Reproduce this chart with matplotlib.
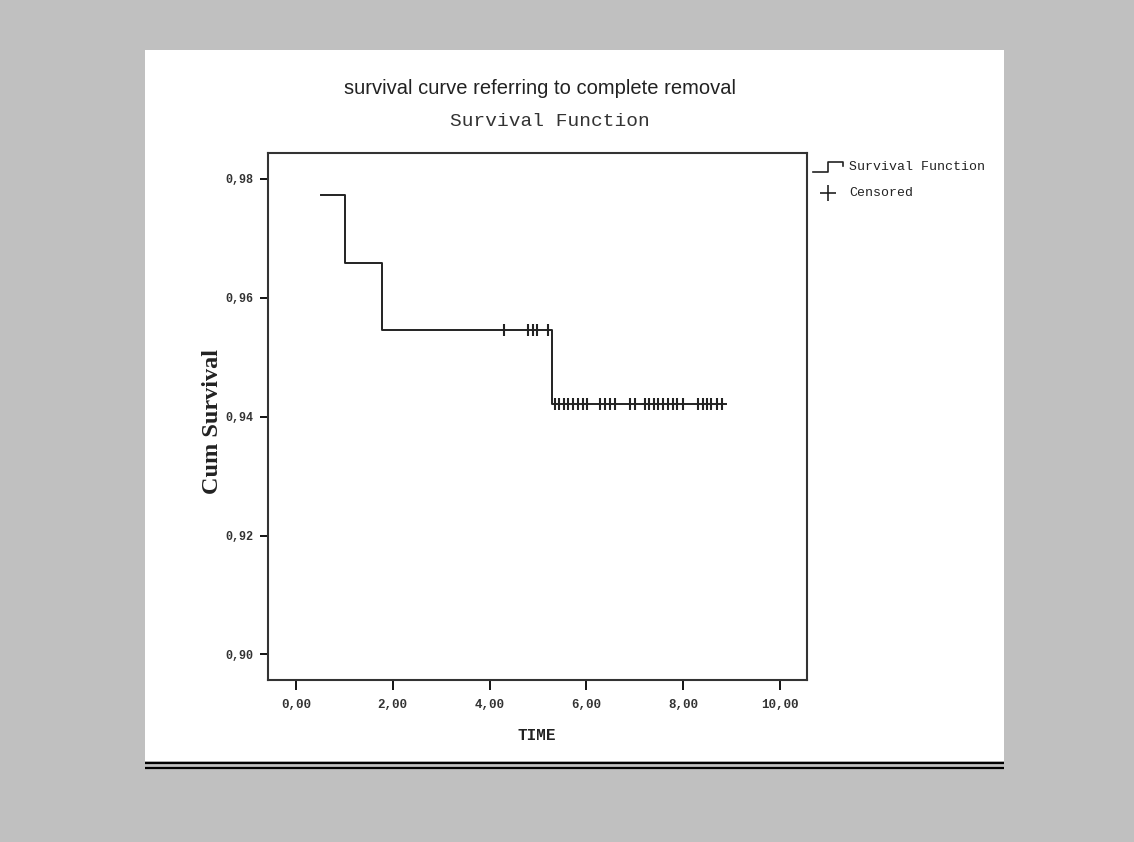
import numpy as np
import matplotlib
matplotlib.use("Agg")
import matplotlib.pyplot as plt
from matplotlib.patches import Rectangle
from matplotlib.lines import Line2D
from matplotlib.ticker import FuncFormatter

# step curve: time of each step and survival level after it
step_times = [0.51, 1.01, 1.78, 5.29]
step_levels = [0.9773, 0.9659, 0.9545, 0.9421]
last_time = 8.88

# censored observations
censored_times = [4.29, 4.80, 4.89, 4.98, 5.21,
                  5.35, 5.44, 5.53, 5.63, 5.73, 5.82, 5.92, 6.02,
                  6.29, 6.38, 6.48, 6.59, 6.90, 7.00,
                  7.21, 7.30, 7.39, 7.48, 7.58, 7.69, 7.78, 7.87, 8.00,
                  8.31, 8.40, 8.49, 8.58, 8.69, 8.80]

x_ticks = [0, 2, 4, 6, 8, 10]
y_ticks = [0.90, 0.92, 0.94, 0.96, 0.98]

W, H = 1134, 842
fig = plt.figure(figsize=(W / 100, H / 100), dpi=100, facecolor="#c0c0c0")


def fx(px):
    return px / W


def fy(py):
    return 1 - py / H


# white page and the double rule under it
fig.add_artist(Rectangle((fx(145), fy(760.7)), fx(1004) - fx(145), fy(50) - fy(760.7),
                         transform=fig.transFigure, facecolor="white", edgecolor="none", zorder=0))
for yy in (763.3, 768.0):
    fig.add_artist(Line2D([fx(145), fx(1004)], [fy(yy), fy(yy)], transform=fig.transFigure,
                          color="black", lw=1.6, solid_capstyle="butt"))

ax = fig.add_axes([fx(268.3), fy(680), fx(806.7) - fx(268.3), fy(152.7) - fy(680)])
ax.set_facecolor("white")

xs = step_times + [last_time]
ys = step_levels + [step_levels[-1]]
ax.step(xs, ys, where="post", color="#222222", lw=1.4)

idx = np.searchsorted(step_times, censored_times, side="right") - 1
cens_levels = np.array(step_levels)[idx]
ax.plot(censored_times, cens_levels, ls="none", marker="|", ms=9, mew=1.5, color="#222222")

ax.set_xlim(-0.57, 10.55)
ax.set_ylim(0.8957, 0.9844)
ax.set_xticks(x_ticks)
ax.set_yticks(y_ticks)
ax.xaxis.set_major_formatter(FuncFormatter(lambda v, p: f"{v:.2f}".replace(".", ",")))
ax.yaxis.set_major_formatter(FuncFormatter(lambda v, p: f"{v:.2f}".replace(".", ",")))
ax.tick_params(axis="x", length=7.5, width=1.3, pad=6, labelsize=9)
ax.tick_params(axis="y", length=6, width=1.3, pad=5, labelsize=8.5)
for lab in ax.get_xticklabels() + ax.get_yticklabels():
    lab.set_family("Liberation Mono")
    lab.set_fontweight("bold")
    lab.set_color("#333333")
for s in ax.spines.values():
    s.set_linewidth(1.5)
    s.set_color("#333333")

fig.text(fx(213), fy(421), "Cum Survival", rotation=90, ha="center", va="center",
         family="Liberation Serif", fontweight="bold", fontsize=17.5, color="#222222")
fig.text(fx(537), fy(736), "TIME", ha="center", va="center",
         family="Liberation Mono", fontweight="bold", fontsize=11.5, color="#222222")

fig.text(fx(540), fy(88), "survival curve referring to complete removal", ha="center", va="center",
         family="Liberation Sans", fontsize=14.5, color="#222222")
fig.text(fx(550), fy(122), "Survival Function", ha="center", va="center",
         family="Liberation Mono", fontsize=14, color="#333333")

# legend
fig.add_artist(Line2D([fx(813), fx(828), fx(828), fx(843), fx(843)],
                      [fy(171.7), fy(171.7), fy(161.7), fy(161.7), fy(166)],
                      transform=fig.transFigure, color="#222222", lw=1.2))
fig.add_artist(Line2D([fx(828)], [fy(192.5)], transform=fig.transFigure, marker="+",
                      ms=12, mew=1.2, color="#222222", ls="none"))
fig.text(fx(849), fy(166.5), "Survival Function", ha="left", va="center",
         family="Liberation Mono", fontsize=9.5, color="#222222")
fig.text(fx(849), fy(193), "Censored", ha="left", va="center",
         family="Liberation Mono", fontsize=9.5, color="#222222")

fig.savefig("out.png", dpi=100, facecolor=fig.get_facecolor())
